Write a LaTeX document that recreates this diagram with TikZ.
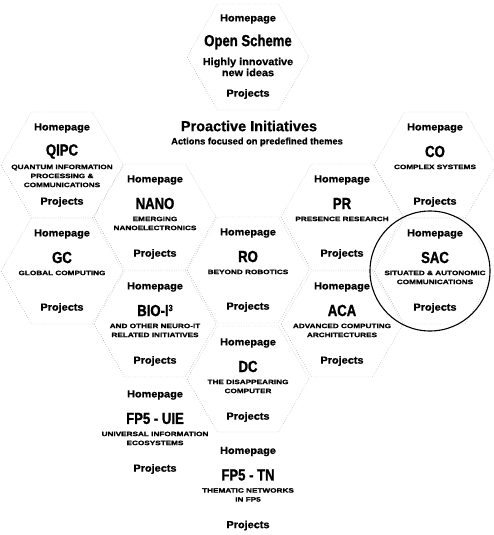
\documentclass[tikz,border=0pt]{standalone}
\usepackage{fontspec}
\setmainfont{Liberation Sans}[FakeBold=0.6]
\newfontfamily\hpfont{Liberation Sans}[FakeStretch=1.06,FakeBold=0.8]
\newfontfamily\ttlfont{Liberation Sans}[FakeStretch=0.82,FakeBold=1.2]
\newfontfamily\dscfont{Liberation Sans}[FakeStretch=1.3,FakeBold=1.2]
\tikzset{
  hexedge/.style={black!40, line width=0.45pt, dash pattern=on 0.5pt off 1.8pt},
  hp/.style={inner sep=0pt, font=\hpfont\bfseries\fontsize{10.3}{12}\selectfont},
  ttl/.style={inner sep=0pt, font=\ttlfont\bfseries\fontsize{16}{18}\selectfont},
  dsc/.style={inner sep=0pt, anchor=north, align=center, font=\dscfont\bfseries\fontsize{6.3}{9}\selectfont},
  bigdsc/.style={inner sep=0pt, align=center, font=\hpfont\bfseries\fontsize{10.3}{11}\selectfont},
  head/.style={inner sep=0pt, font=\bfseries\fontsize{14.5}{16}\selectfont},
  subhead/.style={inner sep=0pt, font=\bfseries\fontsize{9.3}{11}\selectfont},
  ring/.style={line width=1.1pt, black}
}
\newcommand{\hexline}[2]{%
  \draw[hexedge] (#1-61,#2) -- (#1-30.5,#2-53) -- (#1+30.5,#2-53) -- (#1+61,#2)
    -- (#1+30.5,#2+53) -- (#1-30.5,#2+53) -- cycle;}
\newcommand{\hexcell}[5]{%
  \node[hp] (#1-hp) at (#2,#3-37) {Homepage};
  \node[ttl] (#1-t) at (#2,#3-13.5) {#4};
  \node[dsc] (#1-d) at (#2,#3-0.5) {#5};
  \node[hp] (#1-p) at (#2,#3+37) {Projects};}
\begin{document}
\begin{tikzpicture}[x=1pt,y=-1pt]
\fill[white] (0,0) rectangle (493,535);
\useasboundingbox (0,0) rectangle (493,535);
% honeycomb outlines
\hexline{248}{57}
\hexline{62}{165}
\hexline{435}{165}
\hexline{155}{217}
\hexline{342}{217}
\hexline{62}{271}
\hexline{248}{270}
\hexline{435}{271}
\hexline{155}{324}
\hexline{342}{324}
\hexline{248}{379}
% open scheme
\node[hp] (os-hp) at (248,19) {Homepage};
\node[ttl] (os-t) at (248,42) {Open Scheme};
\node[bigdsc] (os-d) at (248,67) {Highly innovative\\new ideas};
\node[hp] (os-p) at (248,94) {Projects};
% proactive initiatives heading
\node[head] (pi) at (249,126) {Proactive Initiatives};
\node[subhead] (pi-sub) at (257,142) {Actions focused on predefined themes};
% cells
\hexcell{qipc}{62}{165}{QIPC}{QUANTUM INFORMATION\\PROCESSING \&\\COMMUNICATIONS}
\hexcell{co}{435}{165}{CO}{COMPLEX SYSTEMS}
\hexcell{nano}{155}{217}{NANO}{EMERGING\\NANOELECTRONICS}
\hexcell{pr}{342}{217}{PR}{PRESENCE RESEARCH}
\hexcell{gc}{62}{271}{GC}{GLOBAL COMPUTING}
\hexcell{ro}{248}{270}{RO}{BEYOND ROBOTICS}
\hexcell{sac}{435}{271}{SAC}{SITUATED \& AUTONOMIC\\COMMUNICATIONS}
\hexcell{bio}{155}{324}{BIO-I{\fontsize{9}{9}\selectfont\raisebox{5pt}{3}}}{AND OTHER NEURO-IT\\RELATED INITIATIVES}
\hexcell{aca}{342}{324}{ACA}{ADVANCED COMPUTING\\ARCHITECTURES}
\hexcell{dc}{248}{380}{DC}{THE DISAPPEARING\\COMPUTER}
\hexcell{uie}{155}{432}{FP5 - UIE}{UNIVERSAL INFORMATION\\ECOSYSTEMS}
\hexcell{tn}{248}{488.5}{FP5 - TN}{THEMATIC NETWORKS\\IN FP5}
% ring around SAC
\draw[ring] (430,271) circle[radius=60pt];
\end{tikzpicture}
\end{document}
